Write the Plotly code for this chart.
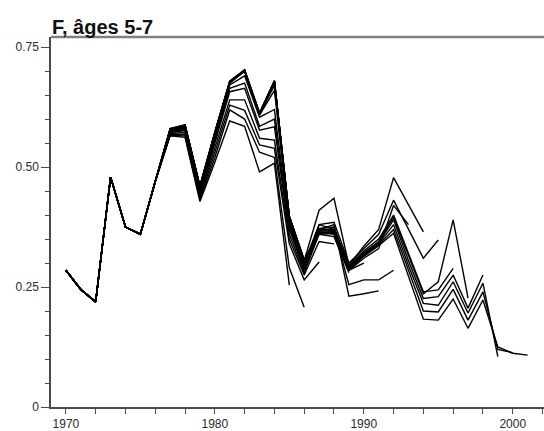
import plotly.graph_objects as go

# Years
years = list(range(1970, 2002))

# Shared beginning of every retrospective run (1970-1976)
f_start = [0.285, 0.245, 0.219, 0.479, 0.375, 0.360, 0.470]

# Values from 1977 onward, one list per terminal year
f_1985 = [0.565, 0.562, 0.428, 0.510, 0.596, 0.585, 0.490, 0.508, 0.254]
f_1986 = [0.566, 0.565, 0.432, 0.520, 0.619, 0.600, 0.531, 0.520, 0.290, 0.208]
f_1987 = [0.568, 0.568, 0.436, 0.530, 0.629, 0.618, 0.546, 0.539, 0.340, 0.265, 0.302]
f_1988 = [0.570, 0.572, 0.440, 0.540, 0.640, 0.640, 0.560, 0.556, 0.350, 0.275, 0.345, 0.340]
f_1989 = [0.572, 0.576, 0.444, 0.550, 0.657, 0.664, 0.577, 0.584, 0.360, 0.280, 0.360, 0.355, 0.280]
f_1990 = [0.574, 0.578, 0.447, 0.555, 0.664, 0.675, 0.585, 0.600, 0.370, 0.285, 0.365, 0.360, 0.285, 0.300]
f_1991 = [0.575, 0.580, 0.450, 0.560, 0.671, 0.690, 0.604, 0.620, 0.375, 0.290, 0.370, 0.380, 0.231, 0.236, 0.242]
f_1992 = [0.576, 0.582, 0.452, 0.565, 0.675, 0.700, 0.608, 0.660, 0.380, 0.295, 0.380, 0.370, 0.255, 0.265, 0.265, 0.285]
f_1993 = [0.577, 0.584, 0.455, 0.568, 0.675, 0.700, 0.610, 0.670, 0.385, 0.300, 0.370, 0.370, 0.285, 0.310, 0.330, 0.420, 0.380]
f_1994 = [0.578, 0.585, 0.458, 0.570, 0.676, 0.700, 0.610, 0.675, 0.390, 0.305, 0.410, 0.435, 0.295, 0.335, 0.370, 0.478, 0.420, 0.365]
f_1995 = [0.578, 0.586, 0.458, 0.570, 0.677, 0.700, 0.610, 0.677, 0.390, 0.300, 0.380, 0.385, 0.300, 0.330, 0.360, 0.431, 0.370, 0.310, 0.348]
f_1996 = [0.578, 0.586, 0.458, 0.570, 0.677, 0.700, 0.610, 0.678, 0.395, 0.302, 0.372, 0.375, 0.295, 0.325, 0.350, 0.400, 0.320, 0.240, 0.244, 0.289]
f_1997 = [0.579, 0.587, 0.459, 0.571, 0.678, 0.701, 0.611, 0.678, 0.395, 0.303, 0.368, 0.370, 0.292, 0.322, 0.345, 0.395, 0.315, 0.236, 0.261, 0.390, 0.227]
f_1998 = [0.579, 0.587, 0.459, 0.571, 0.678, 0.701, 0.611, 0.679, 0.396, 0.304, 0.366, 0.368, 0.290, 0.320, 0.342, 0.390, 0.305, 0.226, 0.230, 0.275, 0.206, 0.275]
f_1999 = [0.579, 0.587, 0.460, 0.572, 0.678, 0.702, 0.612, 0.679, 0.397, 0.305, 0.364, 0.366, 0.288, 0.318, 0.340, 0.380, 0.295, 0.216, 0.212, 0.261, 0.196, 0.258, 0.105]
f_2000 = [0.580, 0.588, 0.460, 0.572, 0.679, 0.702, 0.612, 0.680, 0.398, 0.306, 0.362, 0.364, 0.287, 0.316, 0.338, 0.370, 0.285, 0.200, 0.198, 0.245, 0.181, 0.240, 0.120, 0.113]
f_2001 = [0.580, 0.588, 0.461, 0.573, 0.679, 0.703, 0.613, 0.680, 0.398, 0.307, 0.360, 0.362, 0.286, 0.314, 0.336, 0.362, 0.272, 0.183, 0.181, 0.225, 0.164, 0.223, 0.125, 0.112, 0.108]

runs = [f_1985, f_1986, f_1987, f_1988, f_1989, f_1990, f_1991, f_1992,
        f_1993, f_1994, f_1995, f_1996, f_1997, f_1998, f_1999, f_2000, f_2001]

# Axis ticks
x_label_vals = [1970, 1980, 1990, 2000]
y_label_vals = [0, 0.25, 0.50, 0.75]
y_label_text = ["0", "0.25", "0.50", "0.75"]

title_text = "<b>F, âges 5-7</b>"

fig = go.Figure()
for run in runs:
    vals = f_start + run
    fig.add_trace(go.Scatter(
        x=years[:len(vals)], y=vals, mode="lines",
        line=dict(color="black", width=1.4),
        showlegend=False, hoverinfo="skip"))

axis_col = "#4a4a4a"
tick_font = dict(family="Liberation Sans, Arial, sans-serif", size=12, color="#2a2a2a")

fig.update_layout(
    width=544, height=431,
    margin=dict(l=51, r=0, t=37, b=24, autoexpand=False),
    paper_bgcolor="white", plot_bgcolor="white",
    xaxis=dict(
        range=[1969.0, 2002.1], showgrid=False, zeroline=False,
        showline=True, linecolor=axis_col, linewidth=1.5,
        tickmode="array", tickvals=x_label_vals,
        ticks="outside", ticklen=5, tickwidth=1, tickcolor=axis_col,
        tickfont=tick_font, automargin=False,
        minor=dict(tickmode="linear", tick0=1970, dtick=2, ticks="outside",
                   ticklen=5, tickwidth=1, tickcolor=axis_col, showgrid=False),
    ),
    yaxis=dict(
        range=[0, 0.771], showgrid=False, zeroline=False,
        showline=True, linecolor=axis_col, linewidth=1.5,
        tickmode="array", tickvals=y_label_vals, ticktext=y_label_text,
        ticks="outside", ticklen=8, tickwidth=1, tickcolor=axis_col,
        tickfont=tick_font, automargin=False,
        minor=dict(tickmode="linear", tick0=0, dtick=0.05, ticks="outside",
                   ticklen=4, tickwidth=1, tickcolor=axis_col, showgrid=False),
    ),
    shapes=[dict(type="line", xref="paper", yref="paper", x0=0, x1=1, y0=1, y1=1,
                 line=dict(color="#808080", width=2.5))],
    annotations=[dict(text=title_text, xref="paper", yref="paper", x=0, y=1,
                      xanchor="left", yanchor="bottom", showarrow=False,
                      font=dict(family="Liberation Sans, Arial, sans-serif",
                                size=20, color="#111"),
                      xshift=-1, yshift=-3)],
)

fig.write_html("out.html", config={"displayModeBar": False},
               post_script="document.body.style.margin='0';document.body.style.overflow='hidden';")
